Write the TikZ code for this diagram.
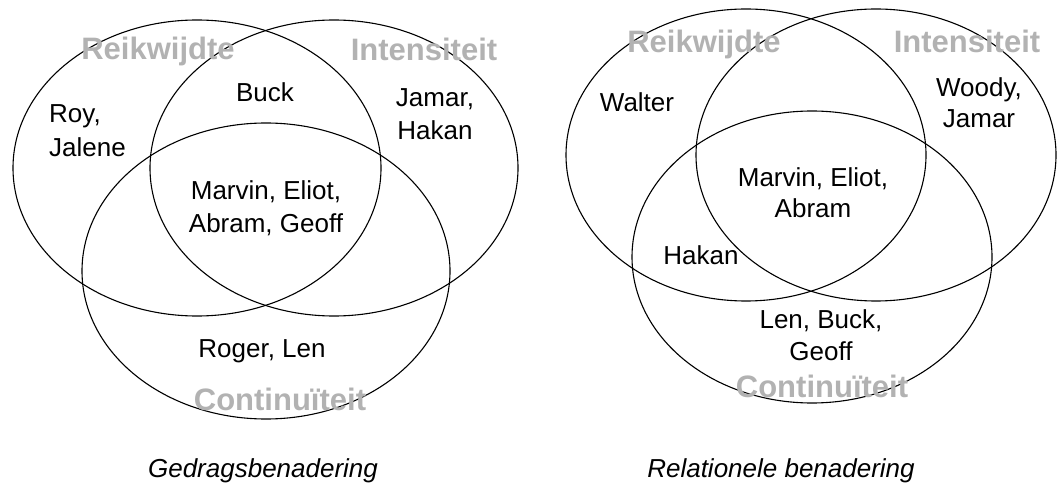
\documentclass[tikz,border=0pt]{standalone}
\usepackage{fontspec}
\setmainfont{Liberation Sans}
\definecolor{lblgray}{RGB}{178,178,178}
\begin{document}
\begin{tikzpicture}[x=1pt,y=-1pt,
  vennline/.style={draw=black,line width=1.1pt},
  pname/.style={anchor=base,inner sep=0pt,font=\fontsize{26}{31}\selectfont},
  pnamel/.style={pname,anchor=base west},
  setlbl/.style={anchor=base,inner sep=0pt,text=lblgray,font=\fontsize{31}{36}\selectfont\bfseries},
  captxt/.style={anchor=base,inner sep=0pt,font=\fontsize{26}{31}\selectfont\itshape}]
\useasboundingbox (0,0) rectangle (1060,486);
% left diagram
\coordinate (LA) at (197,168);
\coordinate (LB) at (334,168);
\coordinate (LC) at (266,271);
\draw[vennline] (LA) ellipse [x radius=184, y radius=148];
\draw[vennline] (LB) ellipse [x radius=184, y radius=148];
\draw[vennline] (LC) ellipse [x radius=184, y radius=148];
\node[setlbl] (lreik) at (158,60) {Reikwijdte};
\node[setlbl] (lint) at (424,61) {Intensiteit};
\node[setlbl] (lcont) at (280,410) {Continuïteit};
\node[pname] (lbuck) at (265,102) {Buck};
\node[pnamel] (lroy1) at (49,123) {Roy,};
\node[pnamel] (lroy2) at (49,157) {Jalene};
\node[pname] (ljam1) at (435,107) {Jamar,};
\node[pname] (ljam2) at (435,140) {Hakan};
\node[pname] (lmar1) at (266,200) {Marvin, Eliot,};
\node[pname] (lmar2) at (266,233) {Abram, Geoff};
\node[pname] (lrog) at (262,357) {Roger, Len};
\node[captxt] (lcap) at (263,477) {Gedragsbenadering};
% right diagram
\coordinate (RA) at (746,155);
\coordinate (RB) at (876,155);
\coordinate (RC) at (812,257);
\draw[vennline] (RA) ellipse [x radius=180, y radius=146];
\draw[vennline] (RB) ellipse [x radius=180, y radius=146];
\draw[vennline] (RC) ellipse [x radius=180, y radius=146];
\node[setlbl] (rreik) at (704,53) {Reikwijdte};
\node[setlbl] (rint) at (967,53) {Intensiteit};
\node[setlbl] (rcont) at (822,397) {Continuïteit};
\node[pname] (rwal) at (637,112) {Walter};
\node[pname] (rwoo1) at (979,97) {Woody,};
\node[pname] (rwoo2) at (979,128) {Jamar};
\node[pname] (rmar1) at (813,187) {Marvin, Eliot,};
\node[pname] (rmar2) at (813,218) {Abram};
\node[pname] (rhak) at (701,265) {Hakan};
\node[pname] (rlen1) at (821,328) {Len, Buck,};
\node[pname] (rlen2) at (821,360) {Geoff};
\node[captxt] (rcap) at (781,477) {Relationele benadering};
\end{tikzpicture}
\end{document}
